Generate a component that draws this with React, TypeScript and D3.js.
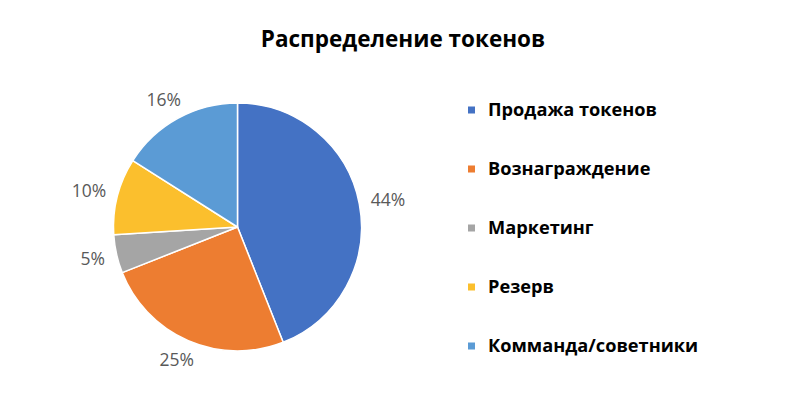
import { useEffect, useRef } from "react";
import * as d3 from "d3";

const TITLE = "Распределение токенов";
const CATEGORIES = ["Продажа токенов", "Вознаграждение", "Маркетинг", "Резерв", "Комманда/советники"];
const VALUES = [44, 25, 5, 10, 16];
const COLORS = ["#4472C4", "#ED7D31", "#A5A5A5", "#FBBF2D", "#5B9BD5"];

export default function App() {
  const svgRef = useRef<SVGSVGElement | null>(null);

  useEffect(() => {
    if (!svgRef.current) return;
    const W = 812;
    const H = 394;
    const svg = d3.select(svgRef.current);
    svg.selectAll("*").remove();
    svg.attr("width", W).attr("height", H);

    svg.append("rect").attr("width", W).attr("height", H).attr("fill", "#fff");

    // Title
    svg.append("text")
      .attr("x", 403)
      .attr("y", 47)
      .attr("text-anchor", "middle")
      .attr("font-family", "'Open Sans', sans-serif")
      .attr("font-size", 22.5)
      .attr("font-weight", 700)
      .attr("fill", "#000")
      .text(TITLE);

    const cx = 237.5;
    const cy = 227;
    const r = 124;
    const total = d3.sum(VALUES);

    const pie = d3.pie<number>().sort(null).value((d) => d);
    const arcs = pie(VALUES);
    const arc = d3.arc<d3.PieArcDatum<number>>().innerRadius(0).outerRadius(r);

    const g = svg.append("g").attr("transform", `translate(${cx},${cy})`);

    g.selectAll("path.slice")
      .data(arcs)
      .join("path")
      .attr("class", "slice")
      .attr("d", arc)
      .attr("fill", (_, i) => COLORS[i])
      .attr("stroke", "#fff")
      .attr("stroke-width", 1.5)
      .attr("stroke-linejoin", "round");

    // Outside percentage labels (just beyond the rim, pushed out by half the text box)
    const fmt = (v: number) => `${Math.round((v / total) * 100)}%`;
    g.selectAll("text.pct")
      .data(arcs)
      .join("text")
      .attr("class", "pct")
      .attr("text-anchor", "middle")
      .attr("dy", "0.35em")
      .attr("font-family", "'Open Sans', sans-serif")
      .attr("font-size", 17.5)
      .attr("fill", "#595959")
      .text((d) => fmt(d.data))
      .each(function (d) {
        const a = (d.startAngle + d.endAngle) / 2;
        const sx = Math.sin(a);
        const sy = -Math.cos(a);
        const halfW = (this as SVGTextElement).getComputedTextLength() / 2;
        d3.select(this)
          .attr("x", (r + 12) * sx + halfW * sx)
          .attr("y", (r + 12) * sy + 9 * sy);
      });

    // Legend
    const ly = d3.scalePoint<string>().domain(CATEGORIES).range([110, 346]);
    const rows = svg.append("g")
      .selectAll("g.row")
      .data(CATEGORIES)
      .join("g")
      .attr("class", "row")
      .attr("transform", (d) => `translate(468,${ly(d)})`);

    rows.append("rect")
      .attr("x", 0)
      .attr("y", -3.5)
      .attr("width", 7)
      .attr("height", 7)
      .attr("fill", (_, i) => COLORS[i]);

    rows.append("text")
      .attr("x", 20)
      .attr("y", 0)
      .attr("dy", "0.35em")
      .attr("font-family", "'Open Sans', sans-serif")
      .attr("font-size", 18.2)
      .attr("font-weight", 700)
      .attr("fill", "#000")
      .text((d) => d);
  }, []);

  return (
    <svg
      ref={svgRef}
      style={{ position: "absolute", left: 0, top: 0, display: "block" }}
    />
  );
}
